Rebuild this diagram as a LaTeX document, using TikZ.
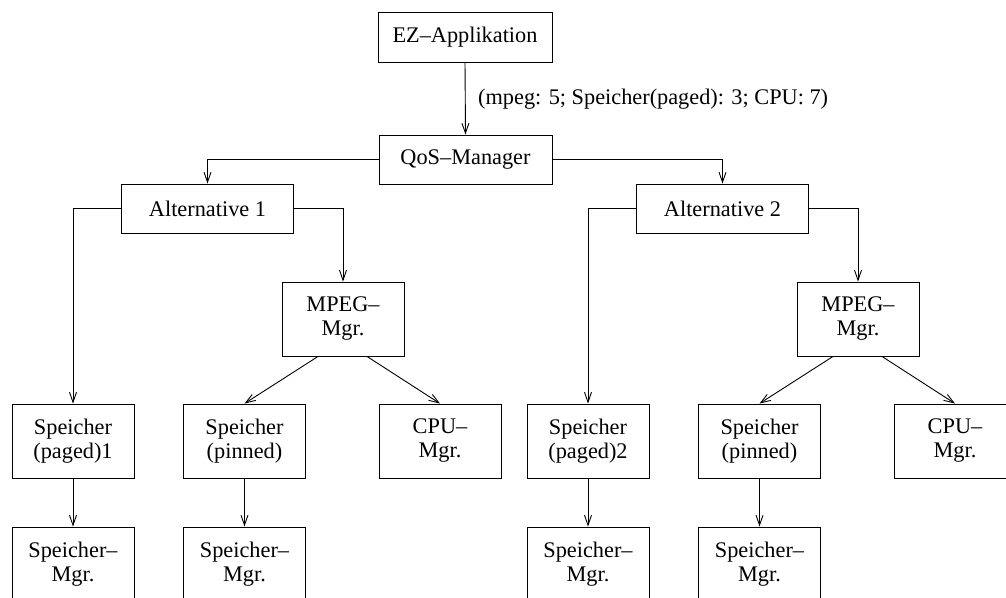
\documentclass[tikz,border=0pt]{standalone}
\usepackage{fontspec}
\setmainfont{Liberation Serif}
\usetikzlibrary{arrows.meta,calc}

\tikzset{
  box/.style={draw, line width=0.9pt, inner sep=0pt, align=center,
              minimum width=122pt, minimum height=74pt},
  wide/.style={box, minimum width=172pt, minimum height=49pt},
  link/.style={line width=0.9pt, -{Straight Barb[length=10pt,width=7pt,line width=0.9pt]}},
  note/.style={inner sep=0pt, anchor=west}
}

\begin{document}
\begin{tikzpicture}[x=1pt, y=-1pt, font=\fontsize{22.3}{24}\selectfont]
\useasboundingbox (0,0) rectangle (1006,597);
\clip (0,0) rectangle (1006,597);

% top of the tree
\node[wide, minimum width=174pt, minimum height=50pt] (ez) at (465,37) {EZ--Applikation};
\node[wide, minimum width=173pt] (qos) at (465.5,159.5) {QoS--Manager};
\node[wide] (alt1) at (207.5,208.5) {Alternative 1};
\node[wide] (alt2) at (722.5,208.5) {Alternative 2};

% MPEG managers
\node[box] (mpeg1) at (343,319) {MPEG--\\Mgr.};
\node[box] (mpeg2) at (858,319) {MPEG--\\Mgr.};

% resource row
\node[box] (sp1) at (73,441)    {Speicher\\(paged)1};
\node[box] (sn1) at (244.5,441) {Speicher\\(pinned)};
\node[box] (cpu1) at (440,441)  {CPU--\\Mgr.};
\node[box] (sp2) at (588,441)   {Speicher\\(paged)2};
\node[box] (sn2) at (759.5,441) {Speicher\\(pinned)};
\node[box] (cpu2) at (955,441)  {CPU--\\Mgr.};

% memory managers
\node[box] (sm1) at (73,564)    {Speicher--\\Mgr.};
\node[box] (sm2) at (244.5,564) {Speicher--\\Mgr.};
\node[box] (sm3) at (588,564)   {Speicher--\\Mgr.};
\node[box] (sm4) at (759.5,564) {Speicher--\\Mgr.};

% request passed down to the QoS manager
\draw[link] (ez.south) -- (qos.north);
\node[note] (req) at (478,99) {(mpeg: 5; Speicher(paged): 3; CPU: 7)};

% alternatives
\draw[link] (qos.west) -| (alt1.north);
\draw[link] (qos.east) -| (alt2.north);
\draw[link] (alt1.west) -| (sp1.north);
\draw[link] (alt1.east) -| (mpeg1.north);
\draw[link] (alt2.west) -| (sp2.north);
\draw[link] (alt2.east) -| (mpeg2.north);

% MPEG manager fan-out
\draw[link] ($(mpeg1.south)+(-25,0)$) -- (sn1.north);
\draw[link] ($(mpeg1.south)+(24,0)$) -- (cpu1.north);
\draw[link] ($(mpeg2.south)+(-25,0)$) -- (sn2.north);
\draw[link] ($(mpeg2.south)+(24,0)$) -- (cpu2.north);

% memory to memory managers
\draw[link] (sp1.south) -- (sm1.north);
\draw[link] (sn1.south) -- (sm2.north);
\draw[link] (sp2.south) -- (sm3.north);
\draw[link] (sn2.south) -- (sm4.north);
\end{tikzpicture}
\end{document}
